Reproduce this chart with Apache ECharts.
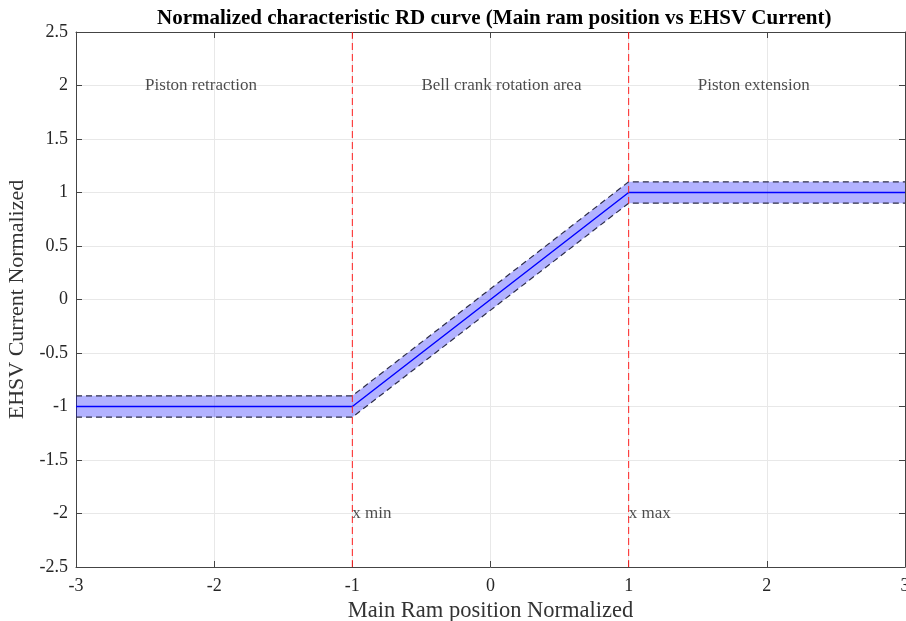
<!DOCTYPE html>
<html><head><meta charset="utf-8">
<script src="https://cdn.jsdelivr.net/npm/echarts@6/dist/echarts.min.js"></script>
<style>html,body{margin:0;padding:0;background:#fff}#c{width:906px;height:621px}</style>
</head><body><div id="c"></div>
<script>
const titleText = 'Normalized characteristic RD curve (Main ram position vs EHSV Current)';
const xLabel = 'Main Ram position Normalized';
const yLabel = 'EHSV Current Normalized';
const xKnots = [-3, -1, 1, 3];
const centerY = [-1, -1, 1, 1];
const upperY = [-0.9, -0.9, 1.1, 1.1];
const lowerY = [-1.1, -1.1, 0.9, 0.9];
const limitX = [-1, 1];
const areaTexts = ['Piston retraction', 'Bell crank rotation area', 'Piston extension'];
const areaTextX = [-2.5, -0.5, 1.5];
const areaTextY = [2, 2, 2];
const limitTexts = ['x min', 'x max'];
const limitTextX = [-1, 1];
const limitTextY = [-2, -2];

const serif = '"Liberation Serif","DejaVu Serif",serif';
const pairs = ys => xKnots.map((x, i) => [x, ys[i]]);
const chart = echarts.init(document.getElementById('c'));
const axisCommon = {
  type: 'value',
  axisLine: { show: true, onZero: false, lineStyle: { color: '#444', width: 1 } },
  axisTick: { show: true, inside: true, length: 6, lineStyle: { color: '#444' } },
  axisLabel: { fontFamily: serif, fontSize: 18, color: '#262626' }
};
const series = [
  {
    type: 'custom', xAxisIndex: 0, yAxisIndex: 0, silent: true, z: 1,
    data: [0],
    renderItem: function (params, api) {
      const pts = [];
      xKnots.forEach((x, i) => pts.push(api.coord([x, upperY[i]])));
      for (let i = xKnots.length - 1; i >= 0; i--) pts.push(api.coord([xKnots[i], lowerY[i]]));
      return { type: 'polygon', shape: { points: pts }, style: { fill: 'rgba(0,0,255,0.3)' } };
    }
  },
  { type: 'line', data: pairs(upperY), symbol: 'none', z: 2, lineStyle: { color: '#2e2e48', width: 1.2, type: [6, 4] } },
  { type: 'line', data: pairs(lowerY), symbol: 'none', z: 2, lineStyle: { color: '#2e2e48', width: 1.2, type: [6, 4] } },
  { type: 'line', data: pairs(centerY), symbol: 'none', z: 3, lineStyle: { color: '#0000ff', width: 1.5 } }
];
limitX.forEach(x => series.push({
  type: 'line', data: [[x, -2.5], [x, 2.5]], symbol: 'none', z: 4, silent: true,
  lineStyle: { color: '#ff2020', width: 1, type: [7, 4] }
}));
series.push({
  type: 'scatter', symbolSize: 0, z: 5,
  data: areaTextX.map((x, i) => ({ value: [x, areaTextY[i]], name: areaTexts[i] })),
  label: { show: true, position: 'right', distance: 0, formatter: '{b}', fontFamily: serif, fontSize: 17, color: '#1e1e1e' }
});
series.push({
  type: 'scatter', symbolSize: 0, z: 5,
  data: limitTextX.map((x, i) => ({ value: [x, limitTextY[i]], name: limitTexts[i] })),
  label: { show: true, position: 'right', distance: 0, formatter: '{b}', fontFamily: serif, fontSize: 17, color: '#1e1e1e' }
});
chart.setOption({
  animation: false,
  title: { text: titleText, left: 152, top: 3, textStyle: { fontFamily: serif, fontWeight: 'bold', fontSize: 21, color: '#000' } },
  grid: { left: 76, right: 1, top: 32, bottom: 54, containLabel: false, outerBoundsMode: 'none' },
  xAxis: [
    Object.assign({}, axisCommon, { min: -3, max: 3, interval: 1, position: 'bottom',
      name: xLabel, nameLocation: 'middle', nameGap: 28, nameTextStyle: { fontFamily: serif, fontSize: 22.5, color: '#333' },
      axisLabel: { fontFamily: serif, fontSize: 18, color: '#262626', margin: 10 },
      splitLine: { show: true, lineStyle: { color: '#e8e8e8' } } }),
    Object.assign({}, axisCommon, { min: -3, max: 3, interval: 1, position: 'top', axisLabel: { show: false }, splitLine: { show: false } })
  ],
  yAxis: [
    Object.assign({}, axisCommon, { min: -2.5, max: 2.5, interval: 0.5, position: 'left',
      name: yLabel, nameLocation: 'middle', nameGap: 44, nameTextStyle: { fontFamily: serif, fontSize: 22, color: '#333' },
      axisLabel: { fontFamily: serif, fontSize: 18, color: '#262626', margin: 8 },
      splitLine: { show: true, lineStyle: { color: '#e8e8e8' } } }),
    Object.assign({}, axisCommon, { min: -2.5, max: 2.5, interval: 0.5, position: 'right', axisLabel: { show: false }, splitLine: { show: false } })
  ],
  series: series
});
</script></body></html>
